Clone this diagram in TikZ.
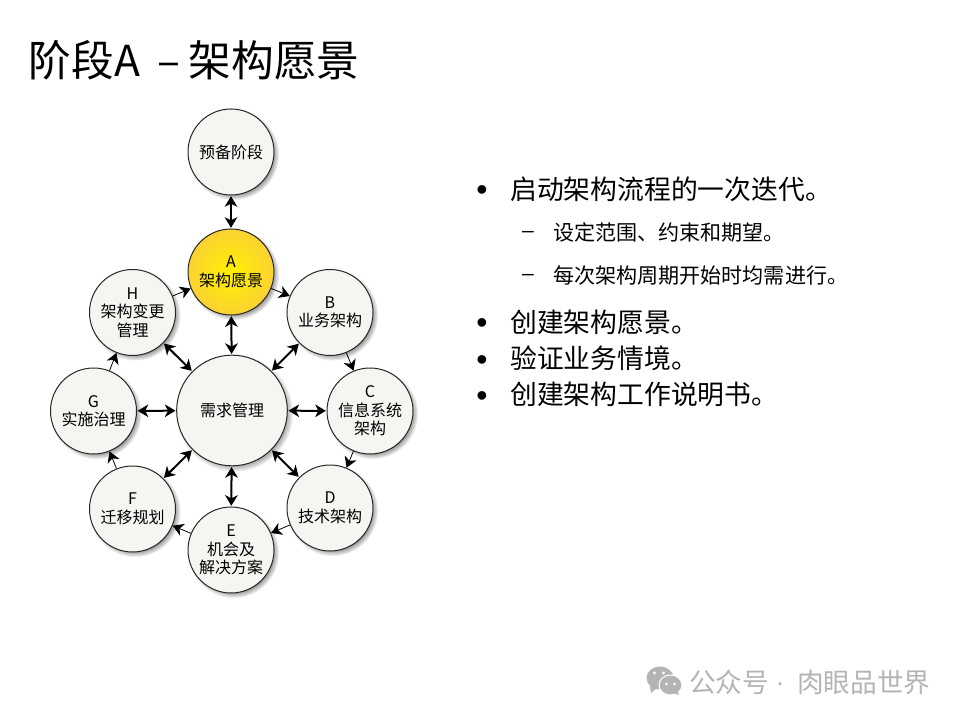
\documentclass[tikz,border=0pt]{standalone}
\usepackage{fontspec}
\setmainfont{Noto Sans CJK SC}
\newfontfamily\markfont{Liberation Sans}
\usetikzlibrary{arrows.meta,shadows,shadings}
\definecolor{discfill}{HTML}{F6F5F1}
\definecolor{wmgrey}{HTML}{B4B4B4}
\definecolor{ylwin}{HTML}{FFF000}
\definecolor{ylwout}{HTML}{FAD233}
\tikzset{
  x=0.75pt,y=-0.75pt,
  tipshape/.tip={Stealth[length=8pt,width=9.5pt,inset=2.4pt]},
  disc/.style={circle,draw=black!85,line width=0.75pt,fill=discfill,inner sep=0pt,
    minimum size=64.5pt,align=center,font=\fontsize{12}{13.9}\selectfont,
    circular drop shadow={shadow xshift=1.8pt,shadow yshift=-1.8pt,shadow scale=1.06,opacity=0.85}},
  yellowdisc/.style={disc,inner color=ylwin,outer color=ylwout},
  bigdisc/.style={disc,minimum size=83pt},
  both/.style={{tipshape}-{tipshape},line width=1.5pt,shorten <=0.5pt,shorten >=0.5pt},
  one/.style={-{tipshape},line width=0.6pt},
  titletext/.style={anchor=west,inner sep=0pt,font=\fontsize{32}{36}\selectfont},
  mainitem/.style={anchor=west,inner sep=0pt,font=\fontsize{20.1}{24}\selectfont},
  subitem/.style={anchor=west,inner sep=0pt,font=\fontsize{15.8}{18}\selectfont},
  bulletglyph/.style={anchor=base,inner sep=0pt,font=\markfont\fontsize{24}{24}\selectfont},
  dashglyph/.style={anchor=base,inner sep=0pt,font=\markfont\fontsize{15.8}{18}\selectfont},
  watermark/.style={anchor=west,inner sep=0pt,text=wmgrey,font=\fontsize{20}{22}\selectfont},
}
\begin{document}
\begin{tikzpicture}
\useasboundingbox (0,0) rectangle (960,720);
\fill[white] (0,0) rectangle (960,720);

\node[titletext] (title) at (28.5,60) {阶段A\hspace{13pt}–\hspace{6.5pt}架构愿景};

% ring
\node[disc] (prep) at (231,152) {预备阶段};
\node[bigdisc] (req) at (232,410.5) {需求管理};
\node[yellowdisc] (a) at (231,272) {A\\架构愿景};
\node[disc] (b) at (330,312.5) {B\\业务架构};
\node[disc] (c) at (370,411) {C\\信息系统\\架构};
\node[disc] (d) at (330,508) {D\\技术架构};
\node[disc] (e) at (231,550) {E\\机会及\\解决方案};
\node[disc] (f) at (132.5,509) {F\\迁移规划};
\node[disc] (g) at (93.5,411) {G\\实施治理};
\node[disc] (h) at (132.5,312.5) {H\\架构变更\\管理};

\draw[both] (prep) -- (a);
\draw[both] (a) -- (req);
\draw[both] (b) -- (req);
\draw[both] (c) -- (req);
\draw[both] (d) -- (req);
\draw[both] (e) -- (req);
\draw[both] (f) -- (req);
\draw[both] (g) -- (req);
\draw[both] (h) -- (req);

\draw[one] (a) -- (b);
\draw[one] (b) -- (c);
\draw[one] (c) -- (d);
\draw[one] (d) -- (e);
\draw[one] (e) -- (f);
\draw[one] (f) -- (g);
\draw[one] (g) -- (h);
\draw[one] (h) -- (a);

% text
\node[bulletglyph] (b1) at (482,201) {•};
\node[mainitem] (t1) at (510,189) {启动架构流程的一次迭代。};
\node[dashglyph] (d1) at (528,237.7) {–};
\node[subitem] (t2) at (553,232) {设定范围、约束和期望。};
\node[dashglyph] (d2) at (528,280.7) {–};
\node[subitem] (t3) at (553,275) {每次架构周期开始时均需进行。};
\node[bulletglyph] (b2) at (482,334) {•};
\node[mainitem] (t4) at (510,322) {创建架构愿景。};
\node[bulletglyph] (b3) at (482,370) {•};
\node[mainitem] (t5) at (510,358) {验证业务情境。};
\node[bulletglyph] (b4) at (482,406) {•};
\node[mainitem] (t6) at (510,394) {创建架构工作说明书。};

% watermark
\fill[wmgrey] (660,678) ellipse (13.5 and 11.5);
\fill[wmgrey] (650,686) -- (651,693) -- (657,688) -- cycle;
\fill[white] (659,673) ++(-4.5,0) circle (1.6);
\fill[white] (659,673) ++(4.5,0) circle (1.6);
\filldraw[fill=wmgrey,draw=white,line width=0.8pt] (670.5,685) ellipse (11.5 and 10);
\fill[wmgrey] (674,693) -- (679,695) -- (677,690) -- cycle;
\fill[white] (666.5,684) circle (1.4);
\fill[white] (674.5,684) circle (1.4);
\node[watermark] (wm) at (689,682) {公众号};
\node[anchor=base,inner sep=0pt,text=wmgrey,font=\markfont\fontsize{20}{22}\selectfont] (wmdot) at (780,691) {·};
\node[watermark] (wm2) at (797,682) {肉眼品世界};
\end{tikzpicture}
\end{document}
